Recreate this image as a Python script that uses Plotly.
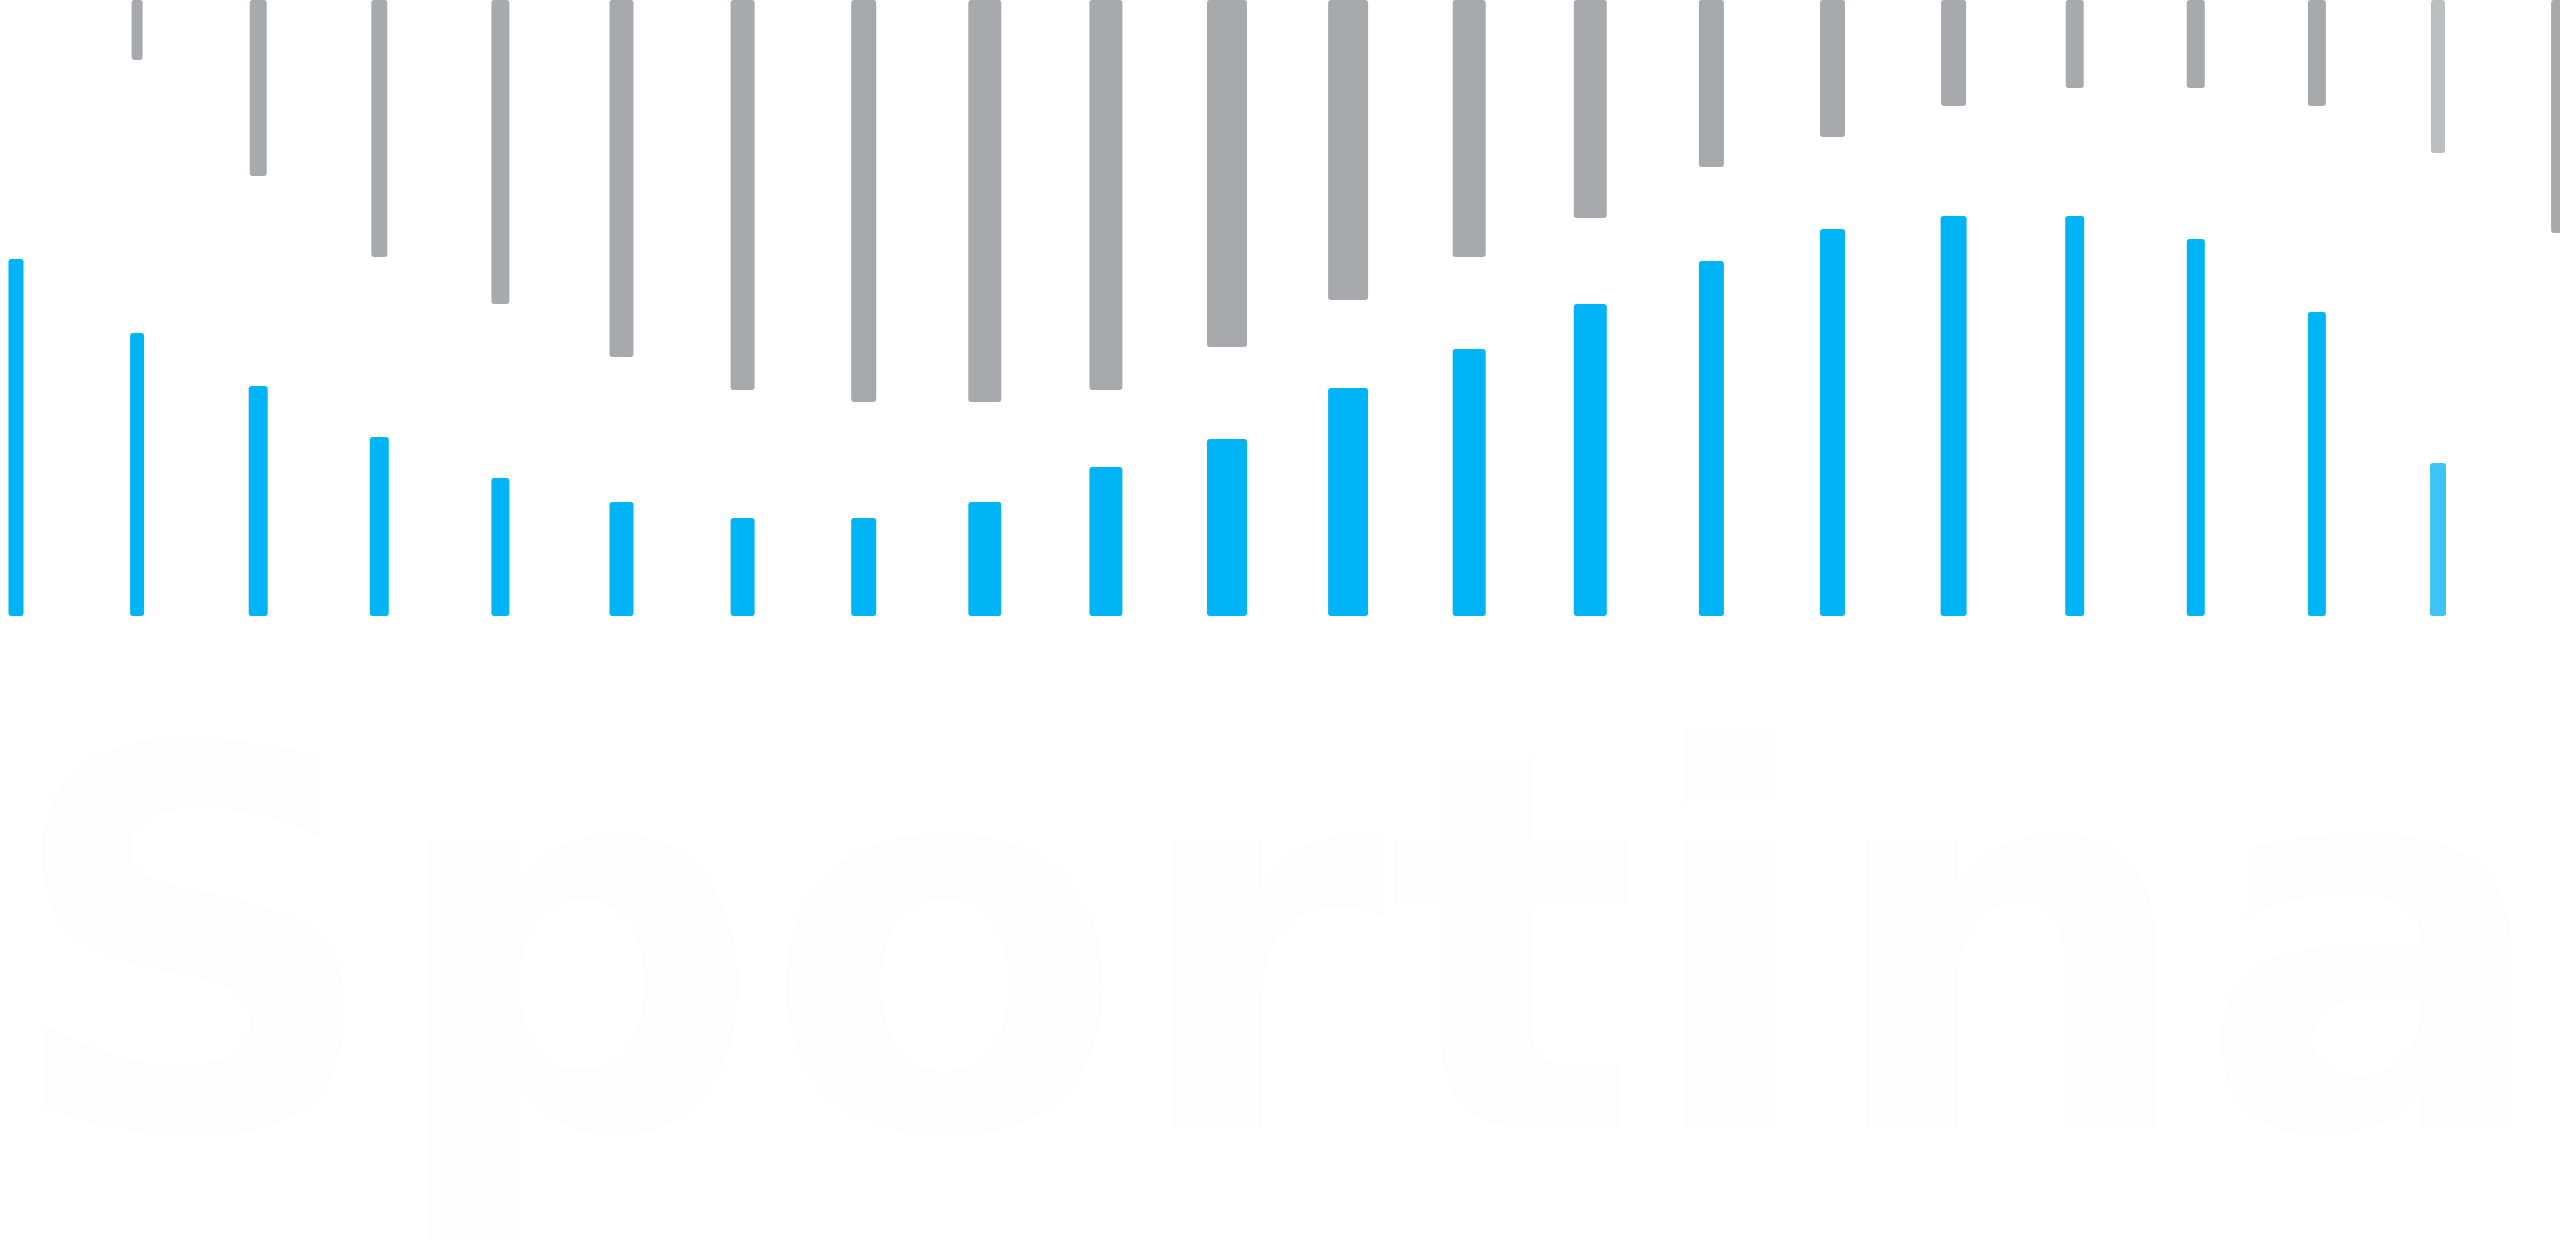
import plotly.graph_objects as go

# Bar positions (index) and values
blue_idx = list(range(0, 21))
blue_vals = [357, 283, 230, 179, 138, 114, 98, 98, 114, 149, 177,
             228, 267, 312, 355, 387, 400, 400, 377, 304, 153]

gray_idx = list(range(1, 22))
gray_vals = [60, 176, 257, 304, 357, 390, 402, 402, 390, 347,
             300, 257, 218, 167, 137, 106, 88, 88, 106, 153, 233]

logo_text = "Sportina"

# Styles (bar widths in pixels)
blue_w_px = [15, 14, 19, 19, 18, 24, 24, 25, 33, 33, 40,
             40, 33, 33, 25, 25, 26, 19, 18, 18, 16]
gray_w_px = [11, 17, 16, 18, 24, 24, 25, 33, 33, 40,
             40, 33, 33, 25, 25, 25, 18, 18, 18, 14, 16]

W, H = 2560, 1255
STEP = 121.1      # px per index
X0 = 16           # px centre of index 0
BASE = 616        # px of blue baseline from top

BLUE = "#00B4F5"
GRAY = "#A7A9AC"
TEXT_SIZE = 529
TEXT_BASELINE = 1129
TEXT_CENTER = 1279

blue_colors = [BLUE] * len(blue_idx)
blue_colors[-1] = "#3FC3F7"
gray_colors = [GRAY] * len(gray_idx)
gray_colors[-2] = "#BCBEC0"


def px_to_x(px):
    return (px - X0) / STEP


def px_to_y(py):
    return BASE - py


fig = go.Figure()

# faint logo word behind the bars
fig.add_trace(go.Scatter(
    x=[px_to_x(TEXT_CENTER)], y=[px_to_y(TEXT_BASELINE - 0.25 * TEXT_SIZE)],
    mode="text", text=[logo_text], textposition="middle center",
    textfont=dict(family="DejaVu Sans", size=TEXT_SIZE, color="#FCFDFC", weight="bold"),
    cliponaxis=True, hoverinfo="skip", showlegend=False,
))

fig.add_trace(go.Bar(
    x=blue_idx, y=blue_vals, base=0,
    width=[w / STEP for w in blue_w_px],
    marker=dict(color=blue_colors, line=dict(width=0), cornerradius=3),
    hoverinfo="skip", showlegend=False,
))

fig.add_trace(go.Bar(
    x=gray_idx, y=[-v for v in gray_vals], base=BASE,
    width=[w / STEP for w in gray_w_px],
    marker=dict(color=gray_colors, line=dict(width=0), cornerradius=3),
    hoverinfo="skip", showlegend=False,
))

fig.update_layout(
    width=W, height=H,
    margin=dict(l=0, r=0, t=0, b=0),
    paper_bgcolor="white", plot_bgcolor="white",
    barmode="overlay",
    xaxis=dict(range=[px_to_x(0), px_to_x(W)], visible=False, fixedrange=True),
    yaxis=dict(range=[px_to_y(H), px_to_y(0)], visible=False, fixedrange=True),
)

fig.write_html(
    "out.html",
    config={"displayModeBar": False},
    post_script=(
        "document.body.style.margin='0';"
        "document.body.style.overflow='hidden';"
        "document.documentElement.style.overflow='hidden';"
    ),
)
